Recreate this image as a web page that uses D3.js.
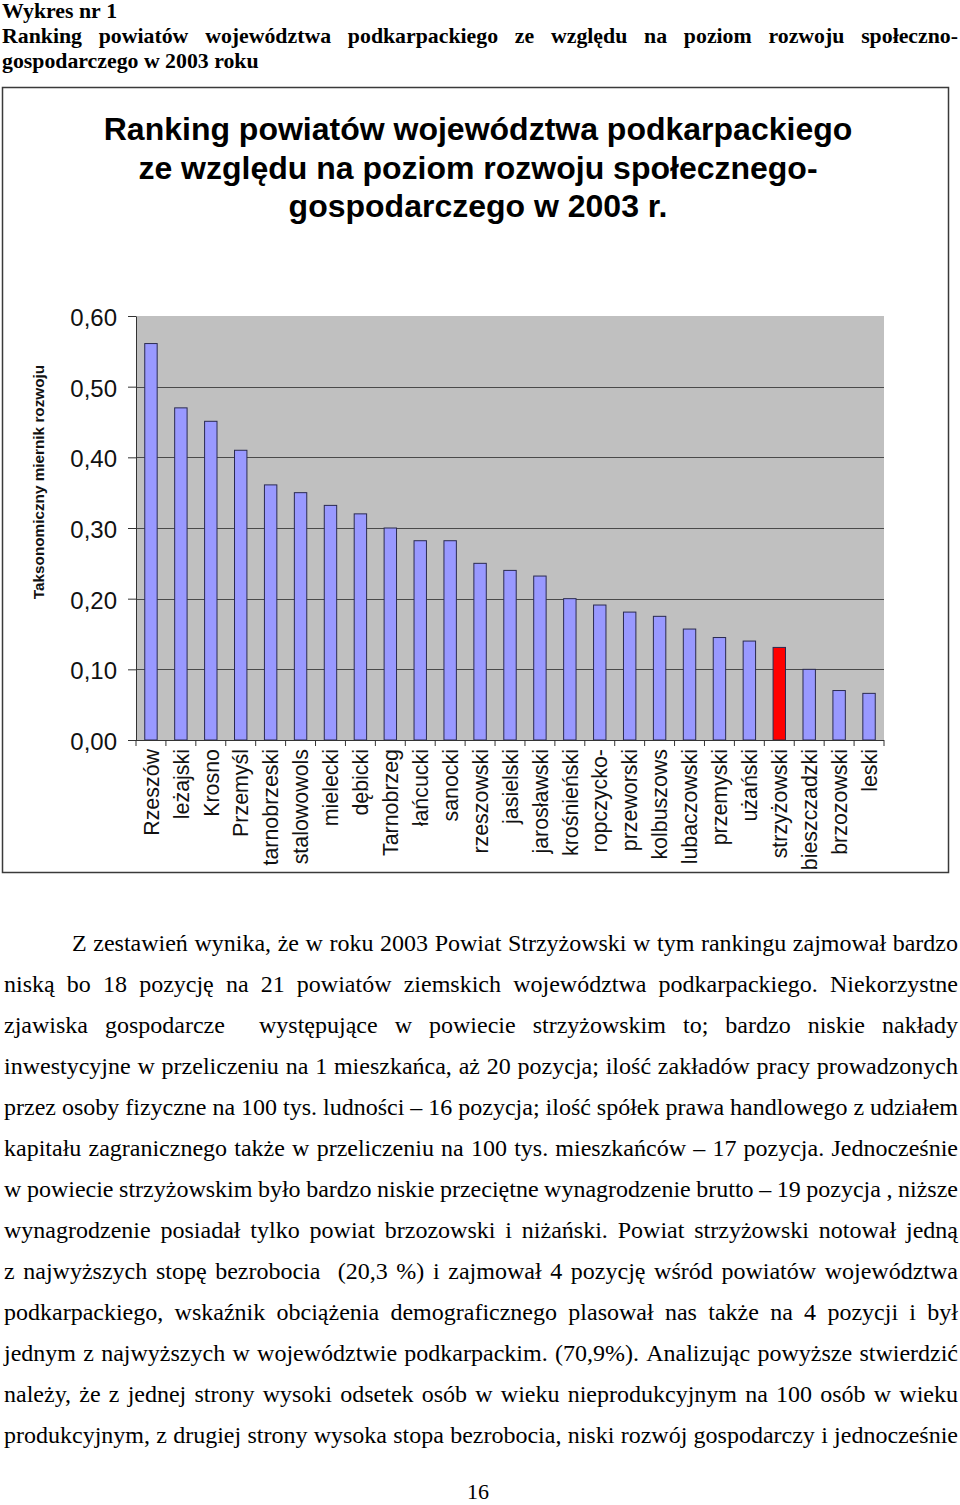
<!DOCTYPE html>
<html>
<head>
<meta charset="utf-8">
<script src="https://cdn.jsdelivr.net/npm/d3@7"></script>
<style>
  html, body { margin: 0; padding: 0; background: #fff; }
  svg { display: block; }
</style>
</head>
<body>
<script>
// ---------- DATA ----------
const categories = ["Rzeszów", "leżajski", "Krosno", "Przemyśl", "tarnobrzeski", "stalowowols",
  "mielecki", "dębicki", "Tarnobrzeg", "łańcucki", "sanocki", "rzeszowski", "jasielski",
  "jarosławski", "krośnieński", "ropczycko-", "przeworski", "kolbuszows", "lubaczowski",
  "przemyski", "użański", "strzyżowski", "bieszczadzki", "brzozowski", "leski"];
const values = [0.561, 0.470, 0.451, 0.410, 0.361, 0.350, 0.332, 0.320, 0.300, 0.282, 0.282,
  0.250, 0.240, 0.232, 0.200, 0.191, 0.181, 0.175, 0.157, 0.145, 0.140, 0.131, 0.100, 0.070, 0.066];
const highlighted = ["strzyżowski"];
const yTickValues = [0, 0.1, 0.2, 0.3, 0.4, 0.5, 0.6];
const yTickLabels = ["0,00", "0,10", "0,20", "0,30", "0,40", "0,50", "0,60"];
const yAxisTitle = "Taksonomiczny miernik rozwoju";
const chartTitle = ["Ranking powiatów województwa podkarpackiego",
  "ze względu na poziom rozwoju społecznego-",
  "gospodarczego w 2003 r."];
const headerLines = ["Wykres nr 1",
  "Ranking powiatów województwa podkarpackiego ze względu na poziom rozwoju społeczno-",
  "gospodarczego w 2003 roku"];
const paragraph = [
  "Z zestawień wynika, że w roku 2003 Powiat Strzyżowski w tym rankingu zajmował bardzo",
  "niską bo 18 pozycję na 21 powiatów ziemskich województwa podkarpackiego. Niekorzystne",
  "zjawiska gospodarcze  występujące w powiecie strzyżowskim to; bardzo niskie nakłady",
  "inwestycyjne w przeliczeniu na 1 mieszkańca, aż 20 pozycja; ilość zakładów pracy prowadzonych",
  "przez osoby fizyczne na 100 tys. ludności – 16 pozycja; ilość spółek prawa handlowego z udziałem",
  "kapitału zagranicznego także w przeliczeniu na 100 tys. mieszkańców – 17 pozycja. Jednocześnie",
  "w powiecie strzyżowskim było bardzo niskie przeciętne wynagrodzenie brutto – 19 pozycja , niższe",
  "wynagrodzenie posiadał tylko powiat brzozowski i niżański. Powiat strzyżowski notował jedną",
  "z najwyższych stopę bezrobocia  (20,3 %) i zajmował 4 pozycję wśród powiatów województwa",
  "podkarpackiego, wskaźnik obciążenia demograficznego plasował nas także na 4 pozycji i był",
  "jednym z najwyższych w województwie podkarpackim. (70,9%). Analizując powyższe stwierdzić",
  "należy, że z jednej strony wysoki odsetek osób w wieku nieprodukcyjnym na 100 osób w wieku",
  "produkcyjnym, z drugiej strony wysoka stopa bezrobocia, niski rozwój gospodarczy i jednocześnie"];
const pageNumber = "16";

// ---------- SETUP ----------
const W = 960, H = 1505;
const SANS = "'Liberation Sans', Arial, sans-serif";
const SERIF = "'Liberation Serif', 'Times New Roman', serif";

const svg = d3.select("body").append("svg")
  .attr("width", W).attr("height", H).attr("viewBox", `0 0 ${W} ${H}`);

// justified line layout: places each word individually
function justifyLine(g, str, x0, x1, y, font, size, weight, justify) {
  const parts = str.split(" ");
  const words = [];
  let pending = 0;
  parts.forEach(p => {
    if (p === "") { pending += 1; return; }
    words.push({ t: p, gap: words.length ? 1 + pending : 0 });
    pending = 0;
  });
  const nodes = words.map(w => g.append("text")
    .attr("font-family", font).attr("font-size", size).attr("font-weight", weight)
    .attr("fill", "#000").attr("y", y).text(w.t));
  const widths = nodes.map(n => n.node().getComputedTextLength());
  const sumW = d3.sum(widths);
  const gapUnits = d3.sum(words, w => w.gap);
  const normalGap = size * 0.25;
  const target = x1 - x0;
  let gap = normalGap, scale = 1;
  if (justify && gapUnits > 0) {
    gap = (target - sumW) / gapUnits;
    const minGap = size * 0.22;
    if (gap < minGap) {
      gap = minGap;
      scale = (target - gapUnits * minGap) / sumW;
    }
  }
  let x = x0;
  nodes.forEach((n, i) => {
    x += words[i].gap * gap;
    n.attr("x", x);
    if (scale !== 1) n.attr("textLength", widths[i] * scale).attr("lengthAdjust", "spacingAndGlyphs");
    x += widths[i] * scale;
  });
}

// ---------- HEADER ----------
const header = svg.append("g");
justifyLine(header, headerLines[0], 2, 958, 18, SERIF, 21.8, "bold", false);
justifyLine(header, headerLines[1], 2, 958, 43, SERIF, 21.8, "bold", true);
justifyLine(header, headerLines[2], 2, 958, 68, SERIF, 21.8, "bold", false);

// ---------- CHART FRAME ----------
svg.append("rect")
  .attr("x", 2.5).attr("y", 87.5).attr("width", 946).attr("height", 785)
  .attr("fill", "#fff").attr("stroke", "#3a3a3a").attr("stroke-width", 1.5);

// Chart title
svg.append("g").selectAll("text").data(chartTitle).join("text")
  .attr("x", 478).attr("y", (d, i) => 140 + i * 38.5)
  .attr("text-anchor", "middle")
  .attr("font-family", SANS).attr("font-size", 32).attr("font-weight", "bold")
  .attr("fill", "#000").text(d => d);

// ---------- SCALES ----------
const plot = { left: 136, right: 884, top: 316, bottom: 740 };
const x = d3.scaleBand().domain(categories).range([plot.left, plot.right])
  .paddingInner(0.585).paddingOuter(0.2925);
const y = d3.scaleLinear().domain([0, 0.6]).range([plot.bottom, plot.top]);

// plot background
svg.append("rect")
  .attr("x", plot.left).attr("y", plot.top)
  .attr("width", plot.right - plot.left).attr("height", plot.bottom - plot.top)
  .attr("fill", "#c0c0c0");

// gridlines
svg.append("g").selectAll("line").data(yTickValues.filter(v => v > 0 && v < 0.6)).join("line")
  .attr("x1", plot.left).attr("x2", plot.right)
  .attr("y1", d => Math.round(y(d)) + 0.5).attr("y2", d => Math.round(y(d)) + 0.5)
  .attr("stroke", "#4a4a4a").attr("stroke-width", 1);

// bars
svg.append("g").selectAll("rect").data(categories).join("rect")
  .attr("x", d => x(d))
  .attr("y", (d, i) => y(values[i]))
  .attr("width", x.bandwidth())
  .attr("height", (d, i) => y(0) - y(values[i]))
  .attr("fill", d => highlighted.includes(d) ? "#ff0000" : "#9999ff")
  .attr("stroke", "#2a2a50").attr("stroke-width", 1);

// y axis
const yAxis = d3.axisLeft(y).tickValues(yTickValues)
  .tickFormat((d, i) => yTickLabels[i]).tickSize(8).tickSizeOuter(0).tickPadding(11);
const gy = svg.append("g").attr("transform", `translate(${plot.left},0)`).call(yAxis);
gy.selectAll("text").attr("font-family", SANS).attr("font-size", 24).attr("fill", "#111")
  .attr("dy", "0.4em");
gy.selectAll("line, path").attr("stroke", "#333");

// x axis line and ticks at band boundaries
const gx = svg.append("g");
gx.append("line").attr("x1", plot.left).attr("x2", plot.right)
  .attr("y1", plot.bottom + 0.5).attr("y2", plot.bottom + 0.5).attr("stroke", "#333");
const bounds = categories.map(c => x(c) - x.step() * x.paddingInner() / 2).concat([plot.right]);
gx.selectAll("line.t").data(bounds).join("line").attr("class", "t")
  .attr("x1", d => d).attr("x2", d => d)
  .attr("y1", plot.bottom).attr("y2", plot.bottom + 6).attr("stroke", "#333");

// x labels
gx.selectAll("text").data(categories).join("text")
  .attr("transform", d => `translate(${x(d) + x.bandwidth() / 2},749) rotate(-90)`)
  .attr("text-anchor", "end").attr("dy", "0.36em")
  .attr("font-family", SANS).attr("font-size", 21.4).attr("fill", "#111")
  .text(d => d);

// y axis title
svg.append("text")
  .attr("transform", "translate(38,482) rotate(-90)")
  .attr("text-anchor", "middle").attr("dy", "0.36em")
  .attr("font-family", SANS).attr("font-size", 15.3).attr("font-weight", "bold")
  .attr("fill", "#111").text(yAxisTitle);

// ---------- PARAGRAPH ----------
const para = svg.append("g");
paragraph.forEach((line, i) => {
  justifyLine(para, line, i === 0 ? 72 : 4, 958, 951 + i * 41, SERIF, 24, "normal", true);
});

svg.append("text").attr("x", 478).attr("y", 1499).attr("text-anchor", "middle")
  .attr("font-family", SERIF).attr("font-size", 22).attr("fill", "#000").text(pageNumber);
</script>
</body>
</html>
